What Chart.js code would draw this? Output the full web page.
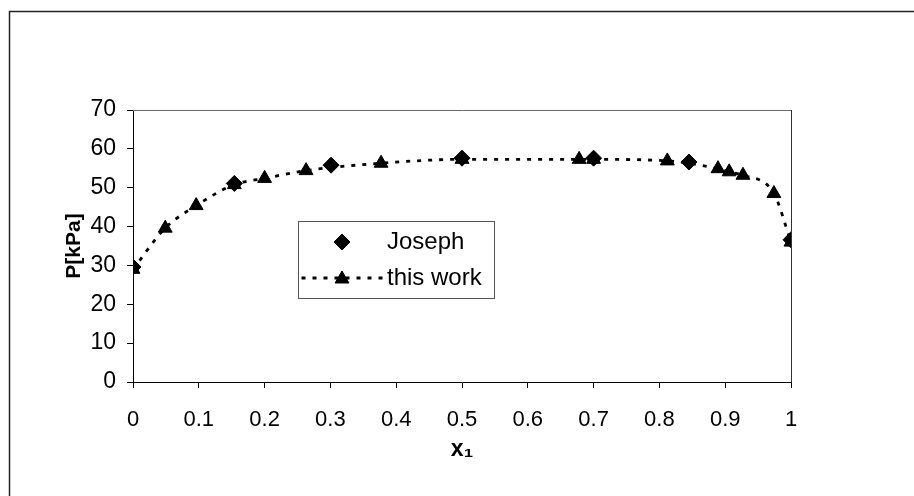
<!DOCTYPE html>
<html>
<head>
<meta charset="utf-8">
<script src="https://cdn.jsdelivr.net/npm/chart.js@4.4.1/dist/chart.umd.min.js"></script>
<style>
  html, body { margin: 0; padding: 0; background: #fff; }
  #wrap { position: relative; width: 914px; height: 496px; }
</style>
</head>
<body>
<div id="wrap"><canvas id="c" width="914" height="496"></canvas></div>
<script>
// Vapour pressure P[kPa] against liquid mole fraction x1
const josephX = [0, 0.154, 0.301, 0.5, 0.7, 0.845, 1.0];
const josephP = [29.6, 51.1, 55.8, 57.6, 57.6, 56.6, 36.6];

const workX = [0, 0.049, 0.096, 0.154, 0.2, 0.263, 0.377, 0.5, 0.678, 0.7, 0.812, 0.889, 0.906, 0.927, 0.974, 1.0];
const workP = [29.0, 39.6, 45.4, 50.8, 52.4, 54.4, 56.3, 57.3, 57.3, 57.3, 56.9, 54.9, 54.1, 53.2, 48.5, 36.0];

const xTickLabels = ['0', '0.1', '0.2', '0.3', '0.4', '0.5', '0.6', '0.7', '0.8', '0.9', '1'];
const yTickLabels = ['0', '10', '20', '30', '40', '50', '60', '70'];

const seriesNames = ['Joseph', 'this work'];
const axisTitles = { x: 'x\u2081', y: 'P[kPa]' };

const FONT = '"Liberation Sans", Arial, sans-serif';

function pairs(xs, ys) {
  return xs.map((x, i) => ({ x: x, y: ys[i] }));
}

// White page, outer chart frame and the thin plot-area outline
const framePlugin = {
  id: 'frame',
  beforeDraw(chart) {
    const ctx = chart.ctx;
    ctx.save();
    ctx.fillStyle = '#fff';
    ctx.fillRect(0, 0, chart.width, chart.height);
    ctx.restore();
  },
  beforeDatasetsDraw(chart) {
    const { ctx, chartArea: a } = chart;
    ctx.save();
    ctx.lineWidth = 1.5;
    ctx.strokeStyle = '#222';
    ctx.beginPath();
    ctx.moveTo(9.5, chart.height);
    ctx.lineTo(9.5, 11.5);
    ctx.lineTo(chart.width, 11.5);
    ctx.stroke();
    ctx.lineWidth = 1;
    ctx.strokeStyle = '#666';
    ctx.beginPath();
    ctx.moveTo(a.left, Math.round(a.top) + 0.5);
    ctx.lineTo(Math.round(a.right) + 0.5, Math.round(a.top) + 0.5);
    ctx.stroke();
    ctx.strokeStyle = '#333';
    ctx.beginPath();
    ctx.moveTo(Math.round(a.right) + 0.5, Math.round(a.top));
    ctx.lineTo(Math.round(a.right) + 0.5, a.bottom);
    ctx.stroke();
    ctx.restore();
  }
};

// Boxed legend sitting inside the plot area
const boxLegend = {
  id: 'boxLegend',
  afterDraw(chart) {
    const ctx = chart.ctx;
    const box = { x: 298.5, y: 221.5, w: 196, h: 77 };
    const rows = [242, 278];
    const symX = 342;
    const textX = 387;
    ctx.save();
    ctx.fillStyle = '#fff';
    ctx.fillRect(box.x, box.y, box.w, box.h);
    ctx.strokeStyle = '#555';
    ctx.lineWidth = 1;
    ctx.strokeRect(box.x, box.y, box.w, box.h);

    const ds = chart.data.datasets;
    // row 1: markers only
    ctx.fillStyle = '#000';
    ctx.strokeStyle = '#000';
    Chart.helpers.drawPoint(ctx, { pointStyle: ds[0].pointStyle, radius: ds[0].pointRadius, borderWidth: 1 }, symX, rows[0]);
    ctx.fill();
    // row 2: dotted line with marker
    ctx.save();
    ctx.setLineDash(ds[1].borderDash);
    ctx.lineWidth = ds[1].borderWidth;
    ctx.beginPath();
    ctx.moveTo(box.x + 3, rows[1]);
    ctx.lineTo(textX - 2, rows[1]);
    ctx.stroke();
    ctx.restore();
    Chart.helpers.drawPoint(ctx, { pointStyle: ds[1].pointStyle, radius: ds[1].pointRadius, borderWidth: 1 }, symX, rows[1] + 1);
    ctx.fill();

    ctx.font = '24px ' + FONT;
    ctx.fillStyle = '#000';
    ctx.textBaseline = 'middle';
    ctx.textAlign = 'left';
    ctx.fillText(ds[0].label, textX, rows[0]);
    ctx.fillText(ds[1].label, textX, rows[1]);
    ctx.restore();
  }
};

new Chart(document.getElementById('c'), {
  type: 'scatter',
  data: {
    datasets: [
      {
        label: seriesNames[0],
        data: pairs(josephX, josephP),
        showLine: false,
        pointStyle: 'rectRot',
        pointRadius: 8,
        backgroundColor: '#000',
        borderColor: '#000',
        borderWidth: 1
      },
      {
        label: seriesNames[1],
        data: pairs(workX, workP),
        showLine: true,
        cubicInterpolationMode: 'monotone',
        borderDash: [4, 7],
        borderWidth: 2.8,
        borderColor: '#000',
        backgroundColor: '#000',
        pointStyle: 'triangle',
        pointRadius: 8,
        pointBorderWidth: 1,
        fill: false
      }
    ]
  },
  options: {
    responsive: false,
    animation: false,
    devicePixelRatio: 1,
    layout: { padding: { left: 0, top: 110, right: 123, bottom: 0 } },
    plugins: {
      legend: { display: false },
      tooltip: { enabled: false }
    },
    scales: {
      x: {
        type: 'linear',
        min: 0,
        max: 1,
        afterFit(s) { s.height = 114; },
        afterBuildTicks(s) { s.ticks = xTickLabels.map(t => ({ value: parseFloat(t) })); },
        ticks: {
          callback: (v, i) => xTickLabels[i],
          color: '#000',
          font: { family: FONT, size: 22 },
          padding: 19,
          maxRotation: 0,
          autoSkip: false
        },
        grid: { drawOnChartArea: false, drawTicks: true, tickLength: 6, color: '#000', lineWidth: 1 },
        border: { display: true, color: '#000', width: 1 },
        title: {
          display: true,
          text: axisTitles.x,
          color: '#000',
          font: { family: FONT, size: 23, weight: 'bold' },
          padding: { top: 33, bottom: 33 }
        }
      },
      y: {
        type: 'linear',
        min: 0,
        max: 70,
        afterFit(s) { s.width = 133; },
        afterBuildTicks(s) { s.ticks = yTickLabels.map(t => ({ value: parseFloat(t) })); },
        ticks: {
          callback: (v, i) => yTickLabels[i],
          color: '#000',
          font: { family: FONT, size: 23 },
          padding: 11,
          autoSkip: false
        },
        grid: { drawOnChartArea: false, drawTicks: true, tickLength: 6, color: '#000', lineWidth: 1 },
        border: { display: true, color: '#000', width: 1 },
        title: {
          display: true,
          text: axisTitles.y,
          color: '#000',
          font: { family: FONT, size: 21, weight: 'bold' },
          padding: { top: 62, bottom: 62 }
        }
      }
    }
  },
  plugins: [framePlugin, boxLegend]
});
</script>
</body>
</html>
